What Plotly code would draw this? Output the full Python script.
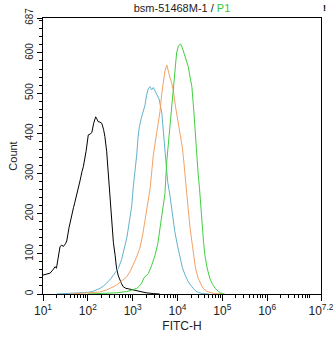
import numpy as np
import plotly.graph_objects as go

# log10(FITC-H) positions and counts for each histogram
black_log = [1.0, 1.08, 1.16, 1.22, 1.27, 1.30, 1.34, 1.38, 1.42, 1.45, 1.50, 1.53, 1.58, 1.64, 1.68, 1.71, 1.76, 1.83, 1.87, 1.90, 1.96, 2.01, 2.05, 2.09, 2.13, 2.175, 2.20, 2.23, 2.27, 2.31, 2.35, 2.38, 2.42, 2.46, 2.50, 2.53, 2.57, 2.61, 2.64, 2.68, 2.72, 2.75, 2.79, 2.85, 2.90, 2.98, 3.08, 3.16, 3.30, 3.46, 3.6]
black_cnt = [47, 50, 52, 60, 68, 64, 90, 118, 122, 118, 125, 132, 165, 201, 215, 228, 255, 284, 305, 317, 355, 396, 398, 402, 425, 441, 436, 429, 428, 425, 410, 392, 355, 290, 220, 172, 128, 95, 64, 45, 33, 26, 18, 14, 13, 11, 8, 6, 3, 1, 0]

blue_log = [1.3, 1.6, 1.8, 2.0, 2.1, 2.2, 2.27, 2.35, 2.42, 2.49, 2.57, 2.63, 2.68, 2.75, 2.83, 2.87, 2.94, 2.98, 3.01, 3.05, 3.09, 3.12, 3.15, 3.20, 3.24, 3.275, 3.31, 3.35, 3.386, 3.42, 3.46, 3.50, 3.55, 3.59, 3.65, 3.70, 3.74, 3.78, 3.83, 3.88, 3.94, 4.00, 4.06, 4.11, 4.17, 4.24, 4.32, 4.40, 4.46, 4.55, 4.7]
blue_cnt = [0, 1, 2, 4, 6, 10, 14, 20, 28, 35, 47, 55, 64, 85, 122, 140, 190, 220, 263, 300, 346, 390, 417, 441, 458, 470, 495, 512, 516, 508, 514, 505, 495, 485, 450, 385, 320, 280, 246, 200, 155, 120, 89, 65, 47, 30, 18, 8, 4, 1, 0]

orange_log = [1.6, 1.8, 2.0, 2.27, 2.42, 2.55, 2.64, 2.75, 2.87, 2.95, 3.01, 3.08, 3.16, 3.22, 3.27, 3.33, 3.39, 3.46, 3.48, 3.54, 3.61, 3.65, 3.68, 3.72, 3.76, 3.79, 3.83, 3.87, 3.91, 3.95, 3.98, 4.02, 4.06, 4.10, 4.13, 4.17, 4.20, 4.24, 4.28, 4.32, 4.35, 4.40, 4.46, 4.52, 4.57, 4.65, 4.72, 4.85, 5.0]
orange_cnt = [0, 1, 2, 5, 10, 16, 22, 32, 43, 58, 72, 90, 114, 145, 180, 220, 263, 346, 360, 400, 455, 500, 530, 555, 570, 555, 540, 525, 505, 470, 450, 425, 400, 370, 342, 300, 255, 210, 164, 130, 97, 65, 39, 25, 14, 7, 4, 1, 0]

green_log = [2.0, 2.4, 2.64, 2.87, 3.0, 3.09, 3.15, 3.20, 3.25, 3.30, 3.35, 3.42, 3.50, 3.56, 3.61, 3.67, 3.72, 3.76, 3.80, 3.83, 3.87, 3.91, 3.95, 3.98, 4.02, 4.07, 4.10, 4.14, 4.17, 4.21, 4.24, 4.28, 4.32, 4.36, 4.39, 4.43, 4.46, 4.49, 4.54, 4.58, 4.61, 4.66, 4.72, 4.78, 4.84, 4.90, 4.95, 5.05]
green_cnt = [0, 1, 3, 6, 10, 14, 20, 27, 40, 46, 51, 70, 97, 125, 165, 205, 250, 330, 380, 420, 470, 520, 570, 600, 618, 622, 615, 600, 595, 580, 566, 540, 516, 460, 408, 346, 300, 263, 180, 130, 97, 65, 39, 24, 14, 7, 3, 0]

x_tick_exp = [1, 2, 3, 4, 5, 6, 7.2]
x_tick_text = ["10<sup>1</sup>", "10<sup>2</sup>", "10<sup>3</sup>", "10<sup>4</sup>",
               "10<sup>5</sup>", "10<sup>6</sup>", "10<sup>7.2</sup>"]
y_tick_vals = [0, 100, 200, 300, 400, 500, 600, 687]

series = [
    (black_log, black_cnt, "#000000"),
    (blue_log, blue_cnt, "#62b2cc"),
    (orange_log, orange_cnt, "#f2a266"),
    (green_log, green_cnt, "#3fd03f"),
]

fig = go.Figure()
for lg, cnt, col in series:
    fig.add_trace(go.Scatter(x=10 ** np.array(lg), y=cnt, mode="lines",
                             line=dict(color=col, width=1), showlegend=False))

minor_x = [m * 10 ** d for d in range(1, 8) for m in range(2, 10) if m * 10 ** d < 10 ** 7.2]

fig.update_layout(
    width=334, height=337,
    margin=dict(l=43, r=13, t=18, b=43),
    paper_bgcolor="white", plot_bgcolor="white",
    font=dict(family="Liberation Sans, Arial, sans-serif", size=11, color="#222"),
    title=dict(text="bsm-51468M-1 / <span style='color:#33cc33'>P1</span>",
               x=0.545, xanchor="center", y=0.976, yanchor="middle",
               font=dict(size=11, color="#222")),
    xaxis=dict(type="log", range=[1, 7.2], tickvals=[10 ** e for e in x_tick_exp],
               ticktext=x_tick_text, ticks="outside", ticklen=6, tickcolor="black",
               showline=True, linecolor="black", linewidth=1, mirror=True,
               showgrid=False, zeroline=False, automargin=False,
               minor=dict(tickvals=minor_x, ticks="outside", ticklen=3, tickcolor="black"),
               title=dict(text="FITC-H", standoff=4, font=dict(size=12)),
               tickfont=dict(size=12)),
    yaxis=dict(range=[0, 687], tickvals=y_tick_vals, ticks="outside", ticklen=5,
               tickcolor="black", tickangle=-90,
               showline=True, linecolor="black", linewidth=1, mirror=True,
               showgrid=False, zeroline=False, automargin=False,
               minor=dict(dtick=20, tick0=0, ticks="outside", ticklen=3, tickcolor="black"),
               title=dict(text="Count", standoff=4, font=dict(size=11)),
               tickfont=dict(size=10)),
    annotations=[dict(text="<b>!</b>", xref="paper", yref="paper", x=1.0, y=1.0,
                      xanchor="left", yanchor="bottom", xshift=0, yshift=3,
                      showarrow=False, font=dict(size=9, color="black"))],
)

fig.write_html("out.html")
